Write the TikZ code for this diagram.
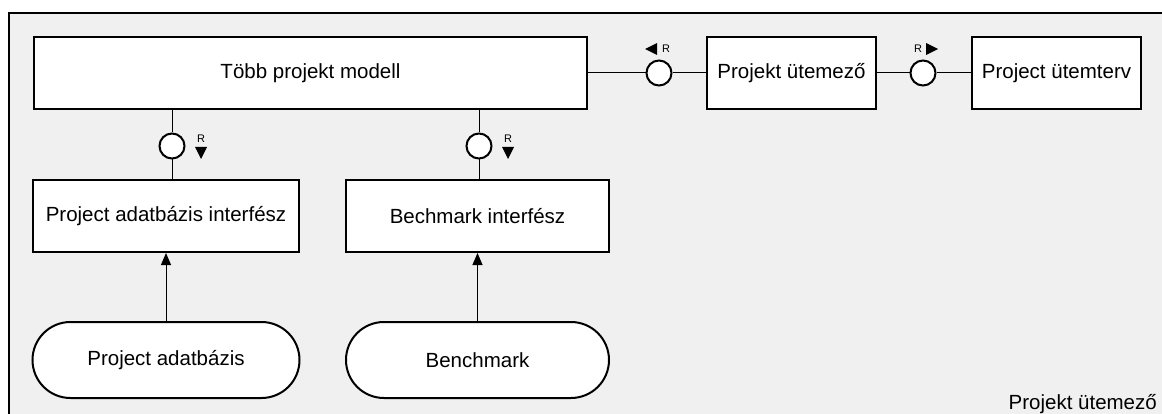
\documentclass[tikz,border=0pt]{standalone}
\usepackage{fontspec}
\setmainfont{Liberation Sans}
\usetikzlibrary{arrows.meta,shapes.misc}

\definecolor{panelgray}{RGB}{240,240,240}

\tikzset{
  block/.style={draw, line width=2pt, fill=white, minimum height=72pt, inner sep=0pt,
    font=\fontsize{20.5}{24}\selectfont},
  store/.style={block, rounded rectangle, minimum height=76pt},
  iface/.style={circle, draw, line width=2pt, fill=white, minimum size=25pt, inner sep=0pt},
  tag/.style={font=\fontsize{11}{12}\selectfont, inner sep=0pt},
  link/.style={line width=1pt},
  feed/.style={link, -{Triangle[length=12pt,width=10pt]}},
}

\begin{document}
\begin{tikzpicture}[x=1pt,y=-1pt]
\useasboundingbox (0,0) rectangle (1162,414);
\fill[white] (0,0) rectangle (1162,414);
\draw[line width=2pt, fill=panelgray] (9,13) rectangle (1180,430);

% top row
\node[block, minimum width=553pt] (multi) at (310.5,73) {Több projekt modell};
\node[block, minimum width=169pt] (sched) at (791.5,73) {Projekt ütemező};
\node[block, minimum width=169pt] (plan) at (1056.5,73) {Project ütemterv};

% interfaces
\node[block, minimum width=266pt] (dbif) at (166,216) {Project adatbázis interfész};
\node[block, minimum width=263pt] (bmif) at (477.5,216) {Bechmark interfész};

% stores
\node[store, minimum width=267pt] (db) at (166,360) {Project adatbázis};
\node[store, minimum width=263pt] (bm) at (477.5,360) {Benchmark};

% ports
\node[iface] (c1) at (659,73) {};
\node[iface] (c2) at (923,73) {};
\node[iface] (c3) at (172,146) {};
\node[iface] (c4) at (479,146) {};

\draw[link] (multi.east) -- (c1) -- (sched.west);
\draw[link] (sched.east) -- (c2) -- (plan.west);
\draw[link] (c3 |- multi.south) -- (c3) -- (c3 |- dbif.north);
\draw[link] (c4 |- multi.south) -- (c4) -- (c4 |- bmif.north);

\draw[feed] (db.north) -- (dbif.south);
\draw[feed] (bm.north) -- (bmif.south);

% direction marks
\node[tag] (r1) at (666,49) {R};
\fill (657,43) -- (657,55) -- (645,49) -- cycle;
\node[tag] (r2) at (918,49) {R};
\fill (926,43) -- (926,55) -- (938,49) -- cycle;
\node[tag] (r3) at (201,139) {R};
\fill (195,147) -- (207,147) -- (201,159) -- cycle;
\node[tag] (r4) at (508,139) {R};
\fill (502,147) -- (514,147) -- (508,159) -- cycle;

\node[anchor=base east, inner sep=0pt, font=\fontsize{20.5}{24}\selectfont] (title) at (1157,409) {Projekt ütemező};
\end{tikzpicture}
\end{document}
